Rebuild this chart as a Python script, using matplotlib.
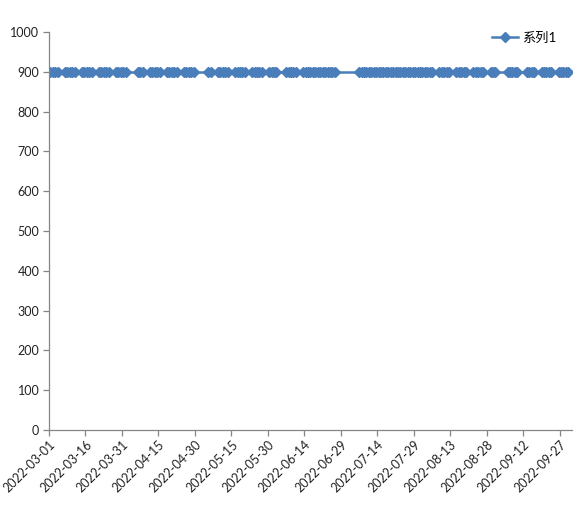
import datetime as dt
import matplotlib
matplotlib.use("Agg")
import matplotlib.pyplot as plt

plt.rcParams['font.family'] = ['Lato', 'Noto Sans CJK SC', 'DejaVu Sans']

# days with a value, per month (2022)
mar_days = [1, 2, 3, 4, 7, 8, 9, 10, 11, 14, 15, 16, 17, 18, 21, 22, 23, 24, 25, 28, 29, 30, 31]
apr_days = [1, 6, 7, 8, 11, 12, 13, 14, 15, 18, 19, 20, 21, 22, 25, 26, 27, 28, 29]
may_days = [5, 6, 9, 10, 11, 12, 13, 16, 17, 18, 19, 20, 23, 24, 25, 26, 27, 30, 31]
jun_days = [1, 2, 6, 7, 8, 9, 10, 13, 14, 15, 16, 17, 18, 19, 20, 21, 22, 23, 24, 25, 26]
jul_days = [6, 7, 8, 9, 10, 11, 12, 13, 14, 15, 16, 17, 18, 19, 20, 21, 22, 23, 24, 25,
            26, 27, 28, 29, 30, 31]
aug_days = [1, 2, 3, 4, 5, 8, 9, 10, 11, 12, 15, 16, 17, 18, 19, 22, 23, 24, 25, 26, 29, 30, 31]
sep_days = [5, 6, 7, 8, 9, 13, 14, 15, 16, 19, 20, 21, 22, 23, 26, 27, 28, 29, 30]
series_value = 900

months = {3: mar_days, 4: apr_days, 5: may_days, 6: jun_days, 7: jul_days, 8: aug_days, 9: sep_days}
dates = [dt.datetime(2022, m, d) for m, days in months.items() for d in days]
values = [series_value] * len(dates)

blue = "#4A7EBB"
axis_col = "#868686"

fig = plt.figure(figsize=(5.82, 5.09), dpi=100)
ax = fig.add_axes([0.0842, 0.1552, 0.8986, 0.7819])

# excel date axis puts each point in the middle of its day
x = [d + dt.timedelta(hours=12) for d in dates]
ax.plot(x, values, color=blue, lw=1.8, marker="D", markersize=5.4,
        markerfacecolor=blue, markeredgecolor=blue, label="系列1")

start = dt.datetime(2022, 3, 1)
ax.set_xlim(start, dt.datetime(2022, 10, 2))
ax.set_ylim(0, 1000)
ax.set_yticks(range(0, 1001, 100))

tick_dates = [start + dt.timedelta(days=15 * i) for i in range(15)]
ax.set_xticks(tick_dates)
ax.set_xticklabels([d.strftime("%Y-%m-%d") for d in tick_dates],
                   rotation=45, ha="right", rotation_mode="anchor", fontsize=9)
for lab in ax.get_yticklabels():
    lab.set_fontsize(9)

for s in ["top", "right"]:
    ax.spines[s].set_visible(False)
for s in ["left", "bottom"]:
    ax.spines[s].set_color(axis_col)
    ax.spines[s].set_linewidth(0.9)
ax.tick_params(axis="both", color=axis_col, length=4, width=0.9, labelcolor="#222222")
ax.tick_params(axis="y", pad=3)
ax.tick_params(axis="x", pad=2)

ax.legend(loc="upper right", bbox_to_anchor=(0.985, 1.02), frameon=False, fontsize=9.5,
          handlelength=2.0, handletextpad=0.3, borderaxespad=0.2)

fig.savefig("out.png", dpi=100)
